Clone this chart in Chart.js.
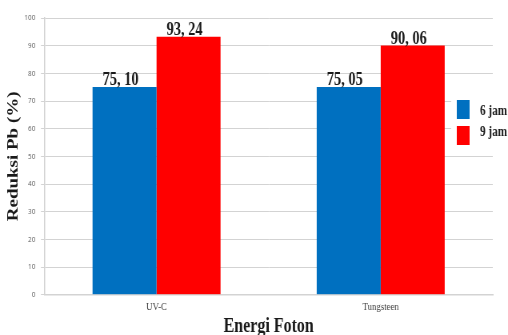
<!DOCTYPE html>
<html>
<head>
<meta charset="utf-8">
<script src="https://cdn.jsdelivr.net/npm/chart.js@4/dist/chart.umd.min.js"></script>
<style>
  html, body { margin: 0; padding: 0; background: #ffffff; overflow: hidden; }
</style>
</head>
<body>
<!-- the drawing surface is laid out wide and shown narrower, giving the condensed look -->
<canvas id="c" width="635" height="335" style="width:508px;height:335px;display:block"></canvas>
<script>
// categories and series
const categories = ['UV-C', 'Tungsteen'];
const seriesNames = ['6 jam', '9 jam'];
const values6jam = [75.10, 75.05];
const values9jam = [93.24, 90.06];
const yTicks = [0, 10, 20, 30, 40, 50, 60, 70, 80, 90, 100];

const BLUE = '#0070C0';
const RED = '#FF0000';
const GRID = '#d3d3d3';
const SERIF = '"Liberation Serif", "Times New Roman", serif';

// value labels above each bar, written with a decimal comma
const valueLabels = {
  id: 'valueLabels',
  afterDatasetsDraw(chart) {
    const ctx = chart.ctx;
    ctx.save();
    ctx.font = 'bold 18px ' + SERIF;
    ctx.fillStyle = '#1a1a1a';
    ctx.textAlign = 'center';
    ctx.textBaseline = 'alphabetic';
    chart.data.datasets.forEach((ds, di) => {
      const meta = chart.getDatasetMeta(di);
      meta.data.forEach((bar, i) => {
        const txt = ds.data[i].toFixed(2).replace('.', ', ');
        ctx.fillText(txt, bar.x - 5, bar.y - 2);
      });
    });
    ctx.restore();
  }
};

// legend box at the right edge, over the grid
const sideLegend = {
  id: 'sideLegend',
  afterDraw(chart) {
    const ctx = chart.ctx;
    ctx.save();
    ctx.fillStyle = '#ffffff';
    ctx.fillRect(564, 88, 71, 60);
    const rows = [{ y: 100, ty: 111 }, { y: 126, ty: 132 }];
    ctx.font = 'bold 14px ' + SERIF;
    ctx.textAlign = 'left';
    ctx.textBaseline = 'middle';
    chart.data.datasets.forEach((ds, i) => {
      const r = rows[i];
      ctx.fillStyle = ds.backgroundColor;
      ctx.fillRect(571, r.y, 16, 19);
      ctx.fillStyle = '#1a1a1a';
      ctx.fillText(ds.label, 600, r.ty);
    });
    ctx.restore();
  }
};

new Chart(document.getElementById('c'), {
  type: 'bar',
  data: {
    labels: categories,
    datasets: [
      { label: seriesNames[0], data: values6jam, backgroundColor: BLUE },
      { label: seriesNames[1], data: values9jam, backgroundColor: RED }
    ]
  },
  options: {
    responsive: false,
    animation: false,
    devicePixelRatio: 1,
    layout: { padding: { top: 18, right: 19, bottom: 0, left: 0 } },
    datasets: { bar: { categoryPercentage: 0.571, barPercentage: 1.0 } },
    plugins: {
      legend: { display: false },
      tooltip: { enabled: false }
    },
    scales: {
      x: {
        grid: { display: false, drawTicks: false },
        border: { display: true, color: GRID, width: 1.5 },
        ticks: {
          color: '#404040',
          padding: 6,
          font: { family: SERIF, size: 11 }
        },
        title: {
          display: true,
          text: 'Energi Foton',
          color: '#1a1a1a',
          font: { family: SERIF, size: 20, weight: 'bold', lineHeight: 0.85 },
          padding: { top: 0, bottom: 0 }
        },
        afterFit(scale) { scale.height = 40.3; }
      },
      y: {
        min: 0,
        max: 100,
        afterBuildTicks(scale) { scale.ticks = yTicks.map(v => ({ value: v })); },
        grid: { color: GRID, lineWidth: 1, tickLength: 4.4, drawTicks: true },
        border: { display: true, color: GRID, width: 1.5 },
        ticks: {
          color: '#595959',
          padding: 7,
          font: { family: '"Open Sans", sans-serif', size: 8 }
        },
        title: {
          display: true,
          text: 'Reduksi Pb (%)',
          color: '#1a1a1a',
          font: { family: SERIF, size: 19, weight: 'bold', lineHeight: 1.2 },
          padding: { top: 6, bottom: 0 }
        },
        afterFit(scale) { scale.width = 55.6; }
      }
    }
  },
  plugins: [valueLabels, sideLegend]
});
</script>
</body>
</html>
